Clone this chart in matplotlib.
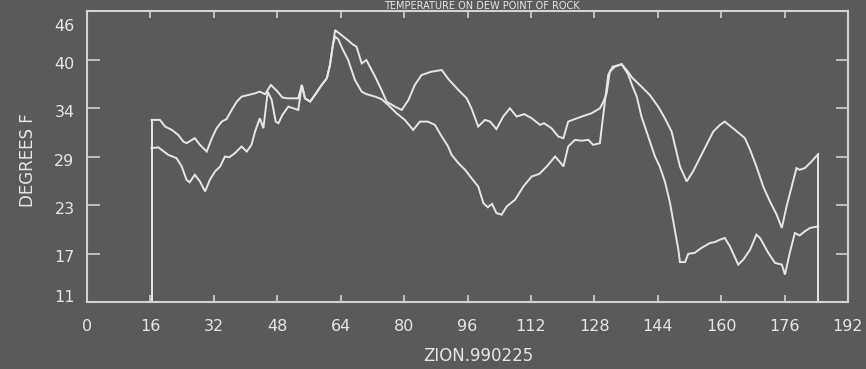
import numpy as np
import matplotlib
matplotlib.use("Agg")
import matplotlib.pyplot as plt
import matplotlib.transforms as mtransforms

# Hourly readings (hour of record, degrees F)
temp_hours = [16.3, 18.4, 19.7, 21.4, 23.0, 24.3, 25.1, 27.2, 28.5, 30.2,
              31.5, 32.7, 34.0, 35.2, 36.5, 37.8, 39.0, 40.7, 42.4, 43.6,
              44.9, 46.4, 47.9, 49.3, 50.5, 53.3, 54.2, 55.0, 56.3, 57.5,
              59.2, 60.5, 61.3, 62.1, 62.6, 64.2, 65.8, 67.0, 68.0, 69.3,
              70.5, 72.7, 74.3, 75.6, 77.7, 79.4, 81.1, 82.7, 84.4, 86.9,
              89.5, 91.2, 93.7, 95.8, 97.0, 98.7, 100.4, 101.7, 103.3, 105.0,
              106.7, 108.4, 110.3, 112.2, 114.3, 115.3, 117.2, 118.9, 120.2, 121.4,
              122.5, 124.8, 127.3, 129.4, 130.2, 131.1, 131.9, 133.2, 134.9, 136.5,
              137.5, 139.9, 142.0, 144.1, 145.8, 147.5, 148.3, 149.6, 151.3, 152.9,
              154.6, 156.3, 158.0, 159.7, 160.9, 163.5, 166.0, 167.3, 168.9, 170.6,
              172.3, 174.0, 175.3, 176.5, 177.8, 179.0, 179.8, 181.1, 182.8, 184.5]
temp_values = [32.9, 32.9, 32.1, 31.7, 31.1, 30.3, 30.1, 30.7, 29.9, 29.1,
               30.7, 31.9, 32.7, 33.0, 34.1, 35.1, 35.7, 35.9, 36.1, 36.3,
               36.0, 37.1, 36.4, 35.6, 35.5, 35.5, 37.1, 35.5, 35.1, 35.9,
               37.1, 37.9, 39.5, 42.1, 43.7, 43.1, 42.5, 42.0, 41.7, 39.7,
               40.1, 38.1, 36.5, 35.1, 34.5, 34.1, 35.3, 37.1, 38.3, 38.7,
               38.9, 37.8, 36.5, 35.5, 34.3, 32.1, 32.9, 32.7, 31.8, 33.3,
               34.3, 33.3, 33.6, 33.1, 32.3, 32.5, 31.9, 30.9, 30.7, 32.7,
               32.9, 33.3, 33.7, 34.3, 35.0, 36.1, 38.7, 39.3, 39.6, 38.7,
               38.0, 36.9, 35.9, 34.5, 33.1, 31.5, 29.9, 27.3, 25.5, 26.7,
               28.3, 29.9, 31.5, 32.3, 32.7, 31.7, 30.7, 29.3, 27.3, 24.9,
               23.1, 21.5, 19.9, 22.5, 24.9, 27.1, 26.9, 27.1, 27.9, 28.8]

dew_hours = [16.3, 18.0, 20.5, 22.6, 23.9, 25.1, 25.9, 27.2, 28.5, 29.8,
             31.0, 32.3, 33.6, 34.8, 35.9, 37.3, 39.0, 40.3, 41.5, 42.4,
             43.6, 44.5, 45.6, 46.6, 47.6, 48.3, 49.3, 50.8, 53.3, 54.2,
             55.0, 56.3, 57.5, 59.2, 60.5, 61.3, 62.1, 62.6, 63.4, 64.4,
             65.9, 67.6, 69.3, 70.5, 72.7, 74.3, 76.0, 78.1, 80.2, 82.3,
             84.0, 86.0, 87.8, 89.5, 91.0, 92.0, 93.7, 95.4, 97.0, 98.7,
             100.0, 101.1, 102.2, 103.3, 104.6, 105.9, 108.0, 110.1, 112.2, 114.1,
             116.0, 118.1, 119.2, 120.2, 121.4, 123.1, 124.8, 126.5, 127.7, 129.4,
             130.2, 131.5, 132.6, 134.9, 136.5, 137.5, 138.7, 139.9, 141.6, 143.3,
             144.5, 145.8, 147.1, 148.3, 149.2, 149.6, 150.9, 151.7, 153.3, 155.0,
             157.2, 158.4, 159.7, 160.9, 162.2, 164.3, 165.6, 167.3, 168.9, 169.8,
             171.9, 173.6, 175.3, 176.1, 177.3, 178.6, 179.8, 181.1, 182.4, 184.5]
dew_values = [29.5, 29.6, 28.7, 28.3, 27.3, 25.7, 25.4, 26.3, 25.5, 24.3,
              25.7, 26.7, 27.3, 28.5, 28.4, 28.9, 29.7, 29.1, 29.9, 31.5,
              33.1, 31.9, 36.3, 35.3, 32.7, 32.5, 33.5, 34.5, 34.1, 37.1,
              35.5, 35.1, 35.9, 37.1, 37.9, 39.5, 42.1, 42.9, 42.6, 41.5,
              40.1, 37.7, 36.3, 36.0, 35.7, 35.4, 34.7, 33.7, 32.9, 31.7,
              32.7, 32.7, 32.3, 30.9, 29.8, 28.7, 27.7, 26.9, 25.9, 24.9,
              22.9, 22.4, 22.8, 21.7, 21.5, 22.5, 23.3, 24.9, 26.1, 26.4,
              27.3, 28.5, 27.9, 27.3, 29.7, 30.5, 30.4, 30.5, 29.9, 30.1,
              33.3, 38.3, 39.3, 39.6, 38.4, 37.1, 35.7, 33.3, 30.9, 28.5,
              27.3, 25.5, 22.9, 19.7, 17.3, 15.8, 15.8, 16.8, 16.9, 17.5,
              18.1, 18.2, 18.5, 18.7, 17.7, 15.5, 16.1, 17.3, 19.1, 18.7,
              16.9, 15.7, 15.5, 14.3, 16.9, 19.3, 19.0, 19.5, 19.9, 20.1]

x_ticks = [0, 16, 32, 48, 64, 80, 96, 112, 128, 144, 160, 176, 192]
x_tick_labels = ["0", "16", "32", "48", "64", "80", "96", "112", "128",
                 "144", "160", "176", "192"]
y_tick_labels = ["11", "17", "23", "29", "34", "40", "46"]
y_min, y_max = 11, 46

title_text = "TEMPERATURE ON DEW POINT OF ROCK"
x_label = "ZION.990225"
y_label = "DEGREES F"

bg = "#5a5a5a"
ink = "#e6e6e6"
frame = "#d2d2d2"
font = ["DejaVu Sans"]

fig = plt.figure(figsize=(8.66, 3.69), dpi=100, facecolor=bg)
ax = fig.add_axes([87 / 866, 1 - 302 / 369, 761 / 866, 291 / 369])
ax.set_facecolor(bg)

ax.plot(temp_hours, temp_values, color=ink, lw=1.4, solid_joinstyle="miter")
ax.plot(dew_hours, dew_values, color=ink, lw=1.4, solid_joinstyle="miter")
# record start / end markers drop to the axis floor
ax.vlines([temp_hours[0], temp_hours[-1]], y_min,
          [temp_values[0], temp_values[-1]], color=ink, lw=1.4)

ax.set_xlim(0, 192)
ax.set_ylim(y_min, y_max)

y_ticks = np.linspace(y_min, y_max, len(y_tick_labels))
ax.set_xticks(x_ticks)
ax.set_xticklabels(x_tick_labels)
ax.set_yticks(y_ticks)
ax.set_yticklabels(y_tick_labels)

for s in ax.spines.values():
    s.set_color(frame)
    s.set_linewidth(1.5)

ax.tick_params(axis="x", direction="in", length=5, width=1.2, color=frame,
               top=True, bottom=True, pad=12, labelsize=11.5, labelcolor=ink)
ax.tick_params(axis="y", direction="in", length=9, width=1.2, color=frame,
               left=True, right=True, pad=9, labelsize=11.5, labelcolor=ink)
for lab in ax.get_xticklabels() + ax.get_yticklabels():
    lab.set_family(font)

# end labels on the value axis sit inward from the frame corners
ylabels = ax.get_yticklabels()
ylabels[0].set_transform(ylabels[0].get_transform() +
                         mtransforms.ScaledTranslation(0, 6 / 100, fig.dpi_scale_trans))
ylabels[-1].set_transform(ylabels[-1].get_transform() +
                          mtransforms.ScaledTranslation(0, -14 / 100, fig.dpi_scale_trans))
for lab in ylabels[1:-1]:
    lab.set_transform(lab.get_transform() +
                      mtransforms.ScaledTranslation(0, -3 / 100, fig.dpi_scale_trans))

fig.text(28 / 866, 1 - 160 / 369, y_label, rotation=90, ha="center",
         va="center", color=ink, fontsize=12, family=font)
fig.text(478 / 866, 1 - 356 / 369, x_label, ha="center", va="center",
         color=ink, fontsize=12, family=font)
fig.text(482 / 866, 1 - 9 / 369, title_text, ha="center", va="baseline",
         color=ink, fontsize=7, family=font)

fig.savefig("out.png", dpi=100, facecolor=bg)
